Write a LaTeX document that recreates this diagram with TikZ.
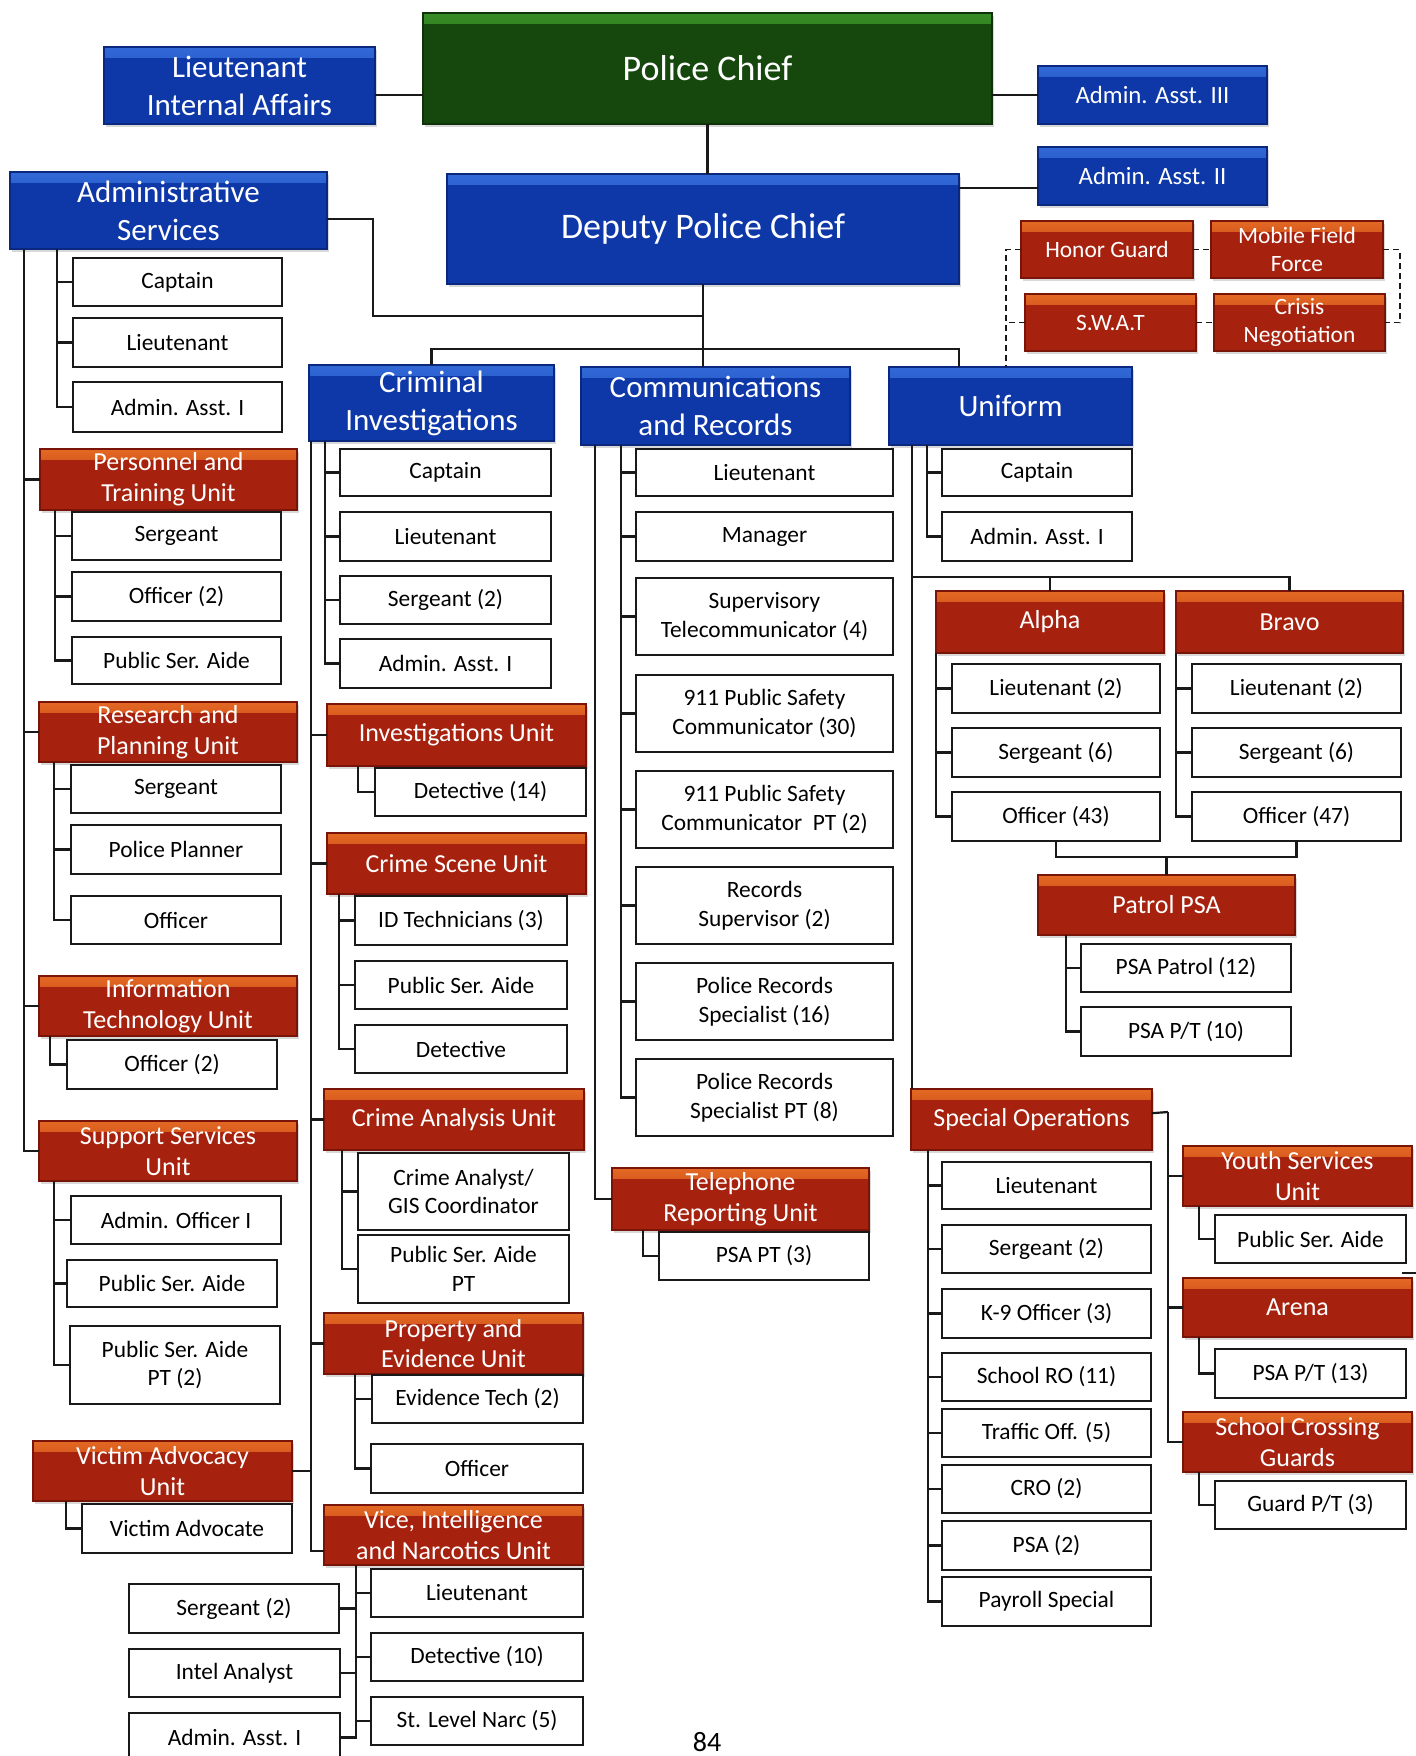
\documentclass[tikz,border=0pt]{standalone}
\usepackage{fontspec}
\setmainfont{Carlito}
\usetikzlibrary{shadows}

\definecolor{bluemain}{RGB}{14,56,168}
\definecolor{bluetop}{RGB}{50,105,215}
\definecolor{blueedge}{RGB}{10,40,125}
\definecolor{redmain}{RGB}{166,34,14}
\definecolor{redtop}{RGB}{228,105,35}
\definecolor{rededge}{RGB}{120,20,8}
\definecolor{greenmain}{RGB}{22,72,14}
\definecolor{greentop}{RGB}{55,140,38}
\definecolor{greenedge}{RGB}{15,50,10}
\definecolor{lineclr}{RGB}{25,25,25}

\tikzset{
  base/.style={inner sep=0pt, outer sep=0pt, align=center},
  wbox/.style={base, draw=lineclr, line width=1pt, fill=white, text=black,
    font=\fontsize{11.7}{14.4}\selectfont},
  cbox/.style={base, text=white, line width=0.6pt,
    drop shadow={shadow xshift=0.8pt, shadow yshift=-1.3pt, opacity=0.3}},
  bluebox/.style={cbox, fill=bluemain, draw=blueedge,
    path picture={\shade[top color=bluetop, bottom color=bluemain]
      (path picture bounding box.north west) rectangle ([yshift=-5pt]path picture bounding box.north east);}},
  redbox/.style={cbox, fill=redmain, draw=rededge,
    path picture={\shade[top color=redtop, bottom color=redmain]
      (path picture bounding box.north west) rectangle ([yshift=-5pt]path picture bounding box.north east);}},
  greenbox/.style={cbox, fill=greenmain, draw=greenedge,
    path picture={\shade[top color=greentop, bottom color=greenmain]
      (path picture bounding box.north west) rectangle ([yshift=-5pt]path picture bounding box.north east);}},
  hdr/.style={bluebox, font=\fontsize{15.5}{19}\selectfont},
  bighdr/.style={bluebox, font=\fontsize{18}{21}\selectfont},
  sblue/.style={bluebox, font=\fontsize{12.4}{15}\selectfont},
  unit/.style={redbox, font=\fontsize{13}{15.3}\selectfont},
  sred/.style={redbox, font=\fontsize{11.7}{14.3}\selectfont},
  orgline/.style={draw=lineclr, line width=1.1pt},
  dsh/.style={draw=lineclr, line width=0.9pt, dash pattern=on 3pt off 2pt},
}

\newcommand{\orgbox}[7]{\node[#6, minimum width={(#4-#2)*0.5pt}, minimum height={(#5-#3)*0.5pt}] (#1) at ({(#2+#4)/2},{(#3+#5)/2}) {#7};}
\newcommand{\spine}[2]{\foreach \ch in {#2} {\draw[orgline] (#1) |- (\ch.west);}}

\begin{document}
\begin{tikzpicture}[x=0.5pt, y=-0.5pt]
\fill[white] (0,0) rectangle (1416,1756);
\useasboundingbox (0,0) rectangle (1416,1756);

% ---------- top ----------
\orgbox{chief}{423}{13}{992}{124}{greenbox,font=\fontsize{18}{21}\selectfont}{Police Chief}
\orgbox{ltia}{104}{47}{375}{124}{hdr}{Lieutenant\\Internal Affairs}
\orgbox{aa3}{1038}{66}{1267}{124}{sblue}{Admin. Asst. III}
\orgbox{aa2}{1038}{147}{1267}{205}{sblue}{Admin. Asst. II}
\orgbox{dep}{447}{174}{959}{284}{bighdr}{Deputy Police Chief}
\orgbox{ads}{10}{172}{327}{249}{hdr}{Administrative\\Services}
\orgbox{hg}{1021}{221}{1193}{278}{sred}{Honor Guard}
\orgbox{mff}{1211}{221}{1383}{278}{sred}{Mobile Field\\Force}
\orgbox{swat}{1025}{294}{1196}{351}{sred}{S.W.A.T}
\orgbox{cn}{1214}{294}{1385}{351}{sred}{Crisis\\Negotiation}
\orgbox{ci}{309}{365}{554}{441}{hdr}{Criminal\\Investigations}
\orgbox{cr}{581}{367}{850}{445}{hdr}{Communications\\and Records}
\orgbox{uni}{889}{367}{1132}{445}{hdr}{Uniform}

% ---------- administrative services ----------
\orgbox{ascap}{73}{258}{282}{306}{wbox}{Captain}
\orgbox{aslt}{73}{318}{282}{367}{wbox}{Lieutenant}
\orgbox{asaa}{73}{382}{282}{432}{wbox}{Admin. Asst. I}
\orgbox{pt}{40}{449}{297}{510}{unit}{Personnel and\\Training Unit}
\orgbox{ptsg}{72}{512}{281}{560}{wbox}{Sergeant}
\orgbox{ptof}{72}{572}{281}{621}{wbox}{Officer (2)}
\orgbox{ptpsa}{72}{637}{281}{684}{wbox}{Public Ser. Aide}
\orgbox{rp}{39}{702}{297}{762}{unit}{Research and\\Planning Unit}
\orgbox{rpsg}{71}{765}{281}{813}{wbox}{Sergeant}
\orgbox{rppp}{71}{825}{281}{874}{wbox}{Police Planner}
\orgbox{rpof}{71}{896}{281}{944}{wbox}{Officer}
\orgbox{it}{39}{976}{297}{1036}{unit}{Information\\Technology Unit}
\orgbox{itof}{67}{1040}{277}{1089}{wbox}{Officer (2)}
\orgbox{ss}{39}{1121}{297}{1181}{unit}{Support Services\\Unit}
\orgbox{ssao}{71}{1196}{281}{1244}{wbox}{Admin. Officer I}
\orgbox{sspsa}{67}{1260}{277}{1307}{wbox}{Public Ser. Aide}
\orgbox{ssppt}{70}{1326}{280}{1404}{wbox}{Public Ser. Aide\\PT (2)}
\orgbox{va}{33}{1441}{292}{1501}{unit}{Victim Advocacy\\Unit}
\orgbox{vadv}{82}{1504}{292}{1553}{wbox}{Victim Advocate}

% ---------- criminal investigations ----------
\orgbox{cicap}{340}{449}{551}{496}{wbox}{Captain}
\orgbox{cilt}{340}{512}{551}{561}{wbox}{Lieutenant}
\orgbox{cisg}{340}{576}{551}{624}{wbox}{Sergeant (2)}
\orgbox{ciaa}{340}{639}{551}{688}{wbox}{Admin. Asst. I}
\orgbox{inv}{327}{704}{586}{766}{unit}{Investigations Unit}
\orgbox{det}{375}{768}{586}{816}{wbox}{Detective (14)}
\orgbox{csu}{327}{833}{586}{894}{unit}{Crime Scene Unit}
\orgbox{idt}{355}{896}{567}{945}{wbox}{ID Technicians (3)}
\orgbox{cspsa}{355}{961}{567}{1009}{wbox}{Public Ser. Aide}
\orgbox{csdet}{355}{1025}{567}{1073}{wbox}{Detective}
\orgbox{cau}{324}{1089}{584}{1150}{unit}{Crime Analysis Unit}
\orgbox{gis}{358}{1153}{569}{1230}{wbox}{Crime Analyst/\\GIS Coordinator}
\orgbox{capsa}{358}{1235}{569}{1303}{wbox}{Public Ser. Aide\\PT}
\orgbox{pe}{324}{1313}{583}{1374}{unit}{Property and\\Evidence Unit}
\orgbox{pet}{372}{1375}{583}{1423}{wbox}{Evidence Tech (2)}
\orgbox{peof}{371}{1444}{583}{1493}{wbox}{Officer}
\orgbox{vice}{324}{1505}{583}{1565}{unit}{Vice, Intelligence\\and Narcotics Unit}
\orgbox{vlt}{371}{1569}{583}{1617}{wbox}{Lieutenant}
\orgbox{vdet}{371}{1633}{583}{1681}{wbox}{Detective (10)}
\orgbox{vnarc}{371}{1697}{583}{1745}{wbox}{St. Level Narc (5)}
\orgbox{vsg}{129}{1584}{339}{1633}{wbox}{Sergeant (2)}
\orgbox{vint}{129}{1649}{340}{1697}{wbox}{Intel Analyst}
\orgbox{vaa}{129}{1713}{340}{1762}{wbox}{Admin. Asst. I}

% ---------- communications and records ----------
\orgbox{crlt}{636}{449}{893}{496}{wbox}{Lieutenant}
\orgbox{crmgr}{636}{512}{893}{561}{wbox}{Manager}
\orgbox{crst}{636}{578}{893}{655}{wbox}{Supervisory\\Telecommunicator (4)}
\orgbox{cpa}{636}{675}{893}{752}{wbox}{911 Public Safety\\Communicator (30)}
\orgbox{cpb}{636}{771}{893}{848}{wbox}{911 Public Safety\\Communicator\ \ PT (2)}
\orgbox{crrs}{636}{867}{893}{944}{wbox}{Records\\Supervisor (2)}
\orgbox{crps}{636}{963}{893}{1040}{wbox}{Police Records\\Specialist (16)}
\orgbox{crpt}{636}{1059}{893}{1136}{wbox}{Police Records\\Specialist PT (8)}
\orgbox{tru}{612}{1168}{869}{1230}{unit}{Telephone\\Reporting Unit}
\orgbox{trpsa}{659}{1232}{869}{1280}{wbox}{PSA PT (3)}

% ---------- uniform ----------
\orgbox{ucap}{942}{449}{1132}{496}{wbox}{Captain}
\orgbox{uaa}{942}{512}{1132}{561}{wbox}{Admin. Asst. I}
\orgbox{alpha}{936}{591}{1164}{653}{unit}{Alpha}
\orgbox{bravo}{1176}{591}{1403}{653}{unit}{Bravo}
\orgbox{alt}{952}{664}{1160}{713}{wbox}{Lieutenant (2)}
\orgbox{asg}{952}{728}{1160}{777}{wbox}{Sergeant (6)}
\orgbox{aof}{952}{792}{1160}{841}{wbox}{Officer (43)}
\orgbox{blt}{1192}{664}{1401}{713}{wbox}{Lieutenant (2)}
\orgbox{bsg}{1192}{728}{1401}{777}{wbox}{Sergeant (6)}
\orgbox{bof}{1192}{792}{1401}{841}{wbox}{Officer (47)}
\orgbox{ppsa}{1038}{875}{1295}{935}{unit}{Patrol PSA}
\orgbox{ppa}{1081}{944}{1291}{992}{wbox}{PSA Patrol (12)}
\orgbox{ppb}{1081}{1007}{1291}{1056}{wbox}{PSA P/T (10)}
\orgbox{so}{911}{1089}{1152}{1150}{unit}{Special Operations}
\orgbox{solt}{942}{1162}{1151}{1209}{wbox}{Lieutenant}
\orgbox{sosg}{942}{1225}{1151}{1273}{wbox}{Sergeant (2)}
\orgbox{kn}{942}{1289}{1151}{1338}{wbox}{K-9 Officer (3)}
\orgbox{sro}{942}{1353}{1151}{1401}{wbox}{School RO (11)}
\orgbox{toff}{942}{1409}{1151}{1457}{wbox}{Traffic Off. (5)}
\orgbox{crobox}{942}{1465}{1151}{1513}{wbox}{CRO (2)}
\orgbox{psat}{942}{1521}{1151}{1570}{wbox}{PSA (2)}
\orgbox{pay}{942}{1577}{1151}{1626}{wbox}{Payroll Special}
\orgbox{ysu}{1183}{1146}{1412}{1206}{unit}{Youth Services\\Unit}
\orgbox{ypsa}{1215}{1215}{1406}{1263}{wbox}{Public Ser. Aide}
\orgbox{arena}{1183}{1278}{1412}{1337}{unit}{Arena}
\orgbox{apsa}{1215}{1349}{1406}{1398}{wbox}{PSA P/T (13)}
\orgbox{scg}{1183}{1412}{1412}{1472}{unit}{School Crossing\\Guards}
\orgbox{gpt}{1215}{1481}{1406}{1529}{wbox}{Guard P/T (3)}

\node[font=\fontsize{14}{16}\selectfont] (pg) at (707,1742) {84};

% ---------- connectors: top ----------
\draw[orgline] (ltia.-4.4) -- (ltia.-4.4 -| chief.west);
\draw[orgline] (aa3.west) -- (aa3.west -| chief.east);
\draw[orgline] (aa2.186) -- (aa2.186 -| dep.east);
\draw[orgline] (chief.south) -- (chief.south |- dep.north);
\draw[orgline] (dep.south) -- (dep.south |- cr.north);
\coordinate (bus) at (0,349);
\draw[orgline] (ci.north) -- (ci.north |- bus) -- (bus -| dep.east) -- (dep.east |- uni.north);
\coordinate (ak) at (373,316);
\draw[orgline] (ads.-3.8) -| (ak) -- (ak -| dep.south);

% dashed special teams
\coordinate (dl) at (1006,0);
\coordinate (dr) at (1400,0);
\draw[dsh] (hg.west) -- (hg.west -| dl) -- (dl |- uni.north);
\draw[dsh] (swat.west) -- (swat.west -| dl);
\draw[dsh] (hg.east) -- (mff.west);
\draw[dsh] (swat.east) -- (cn.west);
\draw[dsh] (mff.east) -- (mff.east -| dr) -- (dr |- cn.east) -- (cn.east);

% ---------- administrative services ----------
\coordinate (aso) at (24,249);
\spine{aso}{pt,rp,it,ss}
\coordinate (asi) at (57,249);
\spine{asi}{ascap,aslt,asaa}
\coordinate (pts) at (55,510);
\spine{pts}{ptsg,ptof,ptpsa}
\coordinate (rps) at (54,762);
\spine{rps}{rpsg,rppp,rpof}
\coordinate (its) at (50,1036);
\spine{its}{itof}
\coordinate (sss) at (54,1181);
\spine{sss}{ssao,sspsa,ssppt}
\coordinate (vas) at (66,1501);
\spine{vas}{vadv}

% ---------- criminal investigations ----------
\coordinate (cio) at (311,441);
\spine{cio}{inv,csu,cau,pe}
\draw[orgline] (cio) |- (vice.187);
\draw[orgline] (va.east) -- (va.east -| cio);
\coordinate (cii) at (325,441);
\spine{cii}{cicap,cilt,cisg,ciaa}
\coordinate (invs) at (358,766);
\spine{invs}{det}
\coordinate (csus) at (339,894);
\spine{csus}{idt,cspsa,csdet}
\coordinate (caus) at (342,1150);
\spine{caus}{gis,capsa}
\coordinate (pes) at (355,1374);
\spine{pes}{pet,peof}
\coordinate (vis) at (356,1565);
\spine{vis}{vlt,vdet,vnarc}
\foreach \ch in {vsg,vint,vaa} {\draw[orgline] (vis) |- (\ch.east);}

% ---------- communications and records ----------
\coordinate (crso) at (595,445);
\spine{crso}{tru}
\coordinate (crsi) at (621,445);
\spine{crsi}{crlt,crmgr,crst,cpa,cpb,crrs,crps,crpt}
\coordinate (trs) at (643,1230);
\spine{trs}{trpsa}

% ---------- uniform ----------
\coordinate (uo) at (912,445);
\draw[orgline] (uo) -- (uo |- so.north);
\coordinate (ub) at (912,577);
\draw[orgline] (ub) -| (alpha.north);
\draw[orgline] (ub) -| (bravo.north);
\coordinate (ui) at (927,445);
\spine{ui}{ucap,uaa}
\spine{alpha.south west}{alt,asg,aof}
\spine{bravo.south west}{blt,bsg,bof}
\coordinate (pb) at (0,857);
\draw[orgline] (aof.south) -- (aof.south |- pb) -- (bof.south |- pb) -- (bof.south);
\draw[orgline] (ppsa.north) -- (ppsa.north |- pb);
\coordinate (pps) at (1066,935);
\spine{pps}{ppa,ppb}
\coordinate (sos) at (928,1150);
\spine{sos}{solt,sosg,kn,sro,toff,crobox,psat,pay}
\coordinate (sot) at (1168,1112);
\draw[orgline] (so.3.6) -- (sot);
\spine{sot}{ysu,arena,scg}
\coordinate (ys) at (1199,1206);
\spine{ys}{ypsa}
\coordinate (ars) at (1199,1337);
\spine{ars}{apsa}
\coordinate (scs) at (1199,1472);
\spine{scs}{gpt}
\coordinate (stray) at (1402,1273);
\draw[orgline] (stray) -- ++(14,0);
\end{tikzpicture}
\end{document}
